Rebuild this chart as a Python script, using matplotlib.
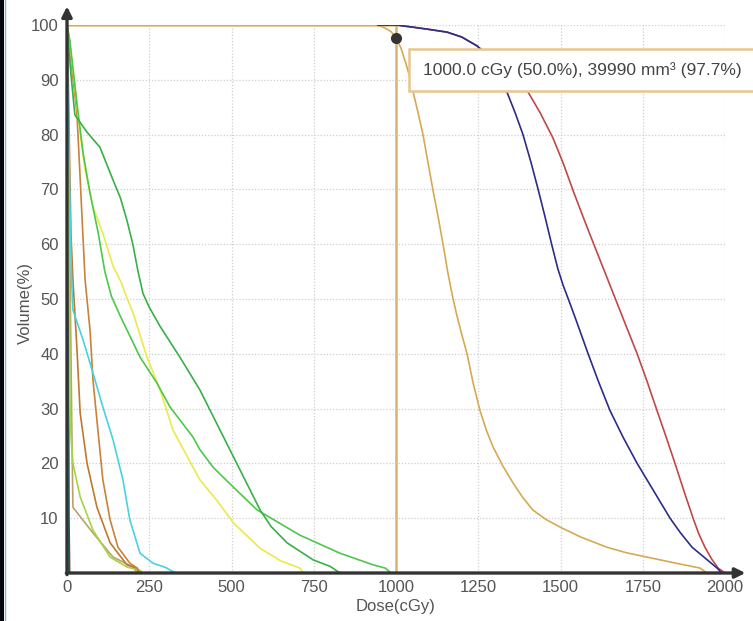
import matplotlib
matplotlib.use("Agg")
import matplotlib.pyplot as plt
from matplotlib.patches import Rectangle
from matplotlib.lines import Line2D

plt.rcParams['font.family'] = ['Liberation Sans', 'DejaVu Sans']

# ---- DVH curves: dose (cGy) and volume (%) ----
target_dose = [0, 942, 965, 985, 1000, 1015, 1030, 1042, 1052, 1067, 1082, 1097, 1112, 1128,
               1143, 1157, 1170, 1185, 1200, 1216, 1235, 1255, 1275, 1295, 1325, 1356, 1385,
               1416, 1455, 1498, 1560, 1641, 1700, 1763, 1850, 1924, 1945]
target_vol = [100, 100, 99.5, 98.8, 97.7, 95.8, 93, 90.5, 87.8, 84, 80, 75, 70, 65,
              60, 55, 51, 47, 43.5, 40, 34.5, 29.7, 26, 23, 19.5, 16.4, 13.8,
              11.5, 9.8, 8.4, 6.6, 4.7, 3.7, 2.9, 1.8, 0.9, 0]

blue_dose = [945, 1000, 1052, 1100, 1155, 1200, 1246, 1277, 1300, 1320, 1337, 1362, 1386, 1410,
             1432, 1453, 1473, 1492, 1508, 1530, 1550, 1584, 1615, 1650, 1690, 1733, 1783,
             1833, 1865, 1900, 1950, 1976, 1990]
blue_vol = [100, 100, 99.6, 99.2, 98.7, 97.8, 96.2, 94.5, 92.5, 90, 87.8, 84, 80, 75,
            70, 65, 60, 55.5, 52.5, 49, 45.7, 40, 35, 29.7, 24.8, 20, 15,
            10, 7.3, 4.7, 2.2, 0.9, 0]

red_dose = [945, 1000, 1052, 1100, 1155, 1200, 1246, 1277, 1320, 1360, 1401, 1438, 1477, 1510,
            1540, 1575, 1611, 1644, 1690, 1733, 1763, 1793, 1820, 1848, 1875, 1903,
            1920, 1939, 1960, 1979, 2000]
red_vol = [100, 100, 99.6, 99.2, 98.7, 97.8, 96.2, 94.7, 92.5, 90, 87.8, 84, 79.4, 74.5,
           69.5, 64, 58.5, 53.5, 46.5, 40, 35, 29.7, 25, 20, 15, 10,
           7.2, 4.7, 2.5, 0.9, 0]

greenA_dose = [0, 5, 12, 20, 24, 60, 100, 140, 162, 182, 200, 216, 231, 250, 283, 343, 404,
               465, 526, 587, 620, 669, 748, 800, 830]
greenA_vol = [100, 96, 91, 86, 83.6, 80.5, 77.7, 71.7, 68.5, 64.4, 60, 55, 51, 48.5, 45,
              39.4, 33.4, 26.1, 18.8, 11.5, 8.5, 5.5, 2.4, 1.2, 0]

greenB_dose = [0, 9, 30, 49, 70, 95, 115, 135, 161, 222, 273, 313, 383, 404, 444, 505, 578,
               708, 830, 930, 967, 985]
greenB_vol = [100, 97, 85.8, 76.6, 69.3, 62, 55, 50.5, 47, 39.4, 34.7, 30.3, 24.8, 22.5, 19.3,
              15.7, 11.5, 6.9, 3.6, 1.5, 0.9, 0]

yellow_dose = [0, 10, 18, 24, 40, 55, 79, 109, 140, 165, 180, 201, 243, 283, 322, 383, 404,
               456, 505, 587, 650, 708, 718]
yellow_vol = [100, 96, 91.8, 88.7, 80, 73.5, 66.8, 62, 56, 53, 50.5, 47.4, 39.4, 33.4, 26.1,
              19.3, 17, 13.2, 9.2, 4.5, 2.2, 0.9, 0]

cyan_dose = [0, 2, 5, 8, 12, 15, 18, 49, 79, 109, 140, 170, 191, 222, 261, 300, 330]
cyan_vol = [100, 92, 80, 70, 58, 52, 48, 42.5, 36.5, 30.3, 24.3, 17, 9.7, 3.6, 1.8, 1.0, 0]

brown1_dose = [0, 8, 15, 30, 40, 48, 55, 70, 79, 94, 109, 131, 155, 191, 213, 220]
brown1_vol = [100, 97, 92, 84, 72, 62, 53.5, 44.3, 35.2, 26, 17, 9.7, 4.7, 1.8, 0.9, 0]

brown2_dose = [0, 4, 8, 12, 18, 30, 40, 61, 91, 131, 182, 213, 220]
brown2_vol = [100, 90, 75, 62, 53.5, 41.2, 29.2, 20, 12, 5.5, 1.5, 0.9, 0]

lime_dose = [0, 3, 6, 8, 9, 12, 18, 40, 79, 131, 182, 222, 230]
lime_vol = [100, 85, 60, 45, 32, 25, 20, 13.9, 7.8, 2.9, 1.1, 0.5, 0]

olive_dose = [0, 5, 10, 15, 18, 79, 140, 200, 215]
olive_vol = [100, 80, 50, 25, 12, 7.3, 2.9, 1.1, 0]

dark_dose = [0, 2, 3, 4, 5, 6, 8]
dark_vol = [100, 90, 70, 50, 30, 10, 0]

teal_dose = [0, 1, 2, 3, 4]
teal_vol = [100, 80, 60, 30, 0]

# cursor readout
cursor_dose = 1000
cursor_vol = 97.7
cursor_label = "1000.0 cGy (50.0%), 39990 mm³ (97.7%)"

x_ticks = [0, 250, 500, 750, 1000, 1250, 1500, 1750, 2000]
y_ticks = [10, 20, 30, 40, 50, 60, 70, 80, 90, 100]

W, H = 753, 621
fig = plt.figure(figsize=(W / 100, H / 100), dpi=100)
fig.patch.set_facecolor("white")

# plot area in pixels: x 67..725, y 25..573
ax = fig.add_axes([67 / W, (H - 573) / H, 658 / W, 548 / H])
ax.set_xlim(0, 2000)
ax.set_ylim(0, 100)
ax.set_facecolor("white")
for s in ax.spines.values():
    s.set_visible(False)

# dotted grid
grid_kw = dict(color="#cfcfcf", lw=0.9, linestyle=(0, (1, 1.5)), zorder=1)
for gx in x_ticks[1:]:
    ax.plot([gx, gx], [0, 100], **grid_kw)
for gy in y_ticks:
    ax.plot([0, 2000], [gy, gy], **grid_kw)

# cursor cross-hair lines
ax.plot([0, cursor_dose], [100, 100], color="#dcbc80", lw=1.8, zorder=2)
ax.plot([cursor_dose, cursor_dose], [0, 100], color="#d8b474", lw=1.8, zorder=2)

curves = [
    (dark_dose, dark_vol, "#6b3a12"),
    (teal_dose, teal_vol, "#1a8a90"),
    (olive_dose, olive_vol, "#b8a468"),
    (lime_dose, lime_vol, "#a6d444"),
    (brown2_dose, brown2_vol, "#c0782e"),
    (brown1_dose, brown1_vol, "#c8823a"),
    (cyan_dose, cyan_vol, "#48d2e2"),
    (yellow_dose, yellow_vol, "#eaea4a"),
    (greenB_dose, greenB_vol, "#4cc84a"),
    (greenA_dose, greenA_vol, "#38b048"),
    (target_dose, target_vol, "#d6aa52"),
    (red_dose, red_vol, "#c04848"),
    (blue_dose, blue_vol, "#2c2c8c"),
]
for d, v, c in curves:
    ax.plot(d, v, color=c, lw=1.2, zorder=3, solid_joinstyle="round")

ax.plot([cursor_dose], [cursor_vol], "o", color="#333333", ms=7, zorder=6)

# axes with arrow heads
arrow_kw = dict(arrowstyle="-|>,head_length=0.5,head_width=0.25", color="#333333", lw=2.4,
                shrinkA=0, shrinkB=0, mutation_scale=12)
ax.annotate("", xy=(2062, 0), xytext=(-2, 0), arrowprops=arrow_kw,
            annotation_clip=False, zorder=7)
ax.annotate("", xy=(0, 103.4), xytext=(0, -0.3), arrowprops=arrow_kw,
            annotation_clip=False, zorder=7)

ax.set_xticks(x_ticks)
ax.set_xticklabels([str(t) for t in x_ticks])
ax.set_yticks(y_ticks)
ax.set_yticklabels([str(t) for t in y_ticks])
ax.tick_params(length=0, labelsize=12, labelcolor="#555555")
ax.tick_params(axis="x", pad=5)
ax.tick_params(axis="y", pad=6)

fig.text(396 / W, 1 - 606 / H, "Dose(cGy)", ha="center", va="center",
         fontsize=12, color="#555555")
fig.text(25 / W, 1 - 303 / H, "Volume(%)", ha="center", va="center",
         rotation=90, fontsize=12, color="#555555")

# cursor readout box
box = Rectangle((409 / W, 1 - 91 / H), 360 / W, 42 / H, transform=fig.transFigure,
                facecolor="white", edgecolor="#e8c68c", lw=1.8, zorder=10)
fig.add_artist(box)
fig.text(423 / W, 1 - 70 / H, cursor_label, ha="left", va="center",
         fontsize=12.5, color="#444444", zorder=11)

# dark window edge on the left
fig.add_artist(Rectangle((0, 0), 4 / W, 1, transform=fig.transFigure,
                         facecolor="#06080c", edgecolor="none", zorder=12))
fig.add_artist(Line2D([4.8 / W, 4.8 / W], [0, 1], transform=fig.transFigure,
                      color="#8fb4cc", lw=1.0, zorder=12))

fig.savefig("out.png", dpi=100, facecolor="white")
